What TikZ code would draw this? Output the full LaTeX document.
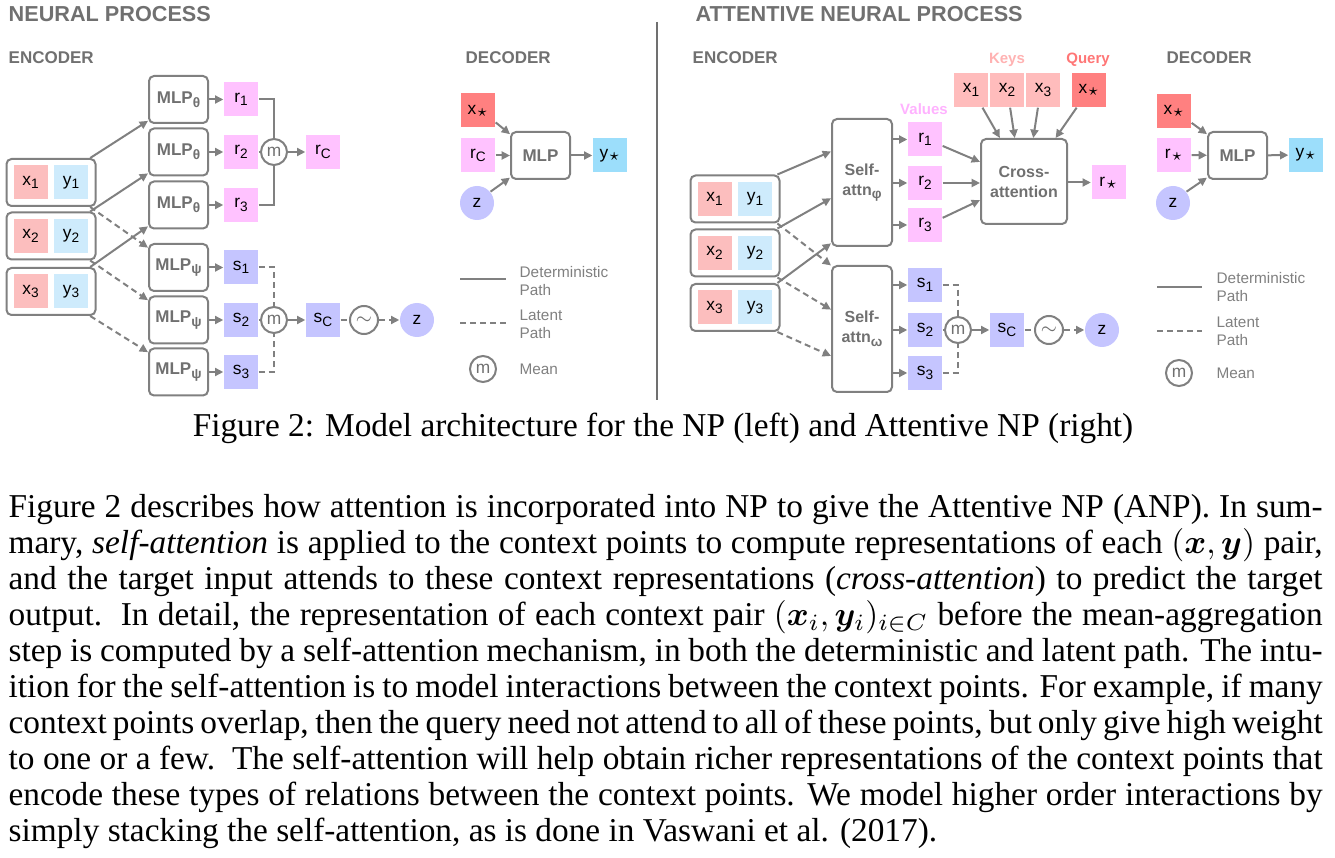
\documentclass[tikz,border=0pt]{standalone}
\usepackage{fontspec}
\usepackage{amsmath,bm}
\setmainfont{Liberation Serif}
\newfontfamily\dg{Liberation Sans}
\usetikzlibrary{arrows.meta}

\definecolor{lgrey}{RGB}{128,128,128}
\definecolor{dgrey}{RGB}{112,112,112}
\definecolor{xc}{RGB}{252,190,190}
\definecolor{yc}{RGB}{206,235,252}
\definecolor{rc}{RGB}{255,194,255}
\definecolor{sc}{RGB}{197,197,255}
\definecolor{xs}{RGB}{255,128,128}
\definecolor{ys}{RGB}{156,222,251}
\definecolor{kc}{RGB}{255,188,188}
\definecolor{keyc}{RGB}{255,178,178}
\definecolor{qc}{RGB}{255,118,118}
\definecolor{valc}{RGB}{255,178,255}

\newcommand\pxu{0.3pt}
\newlength\tw \setlength\tw{394.2pt}
\newcommand\lbl{\dg\fontsize{5.2}{6}\selectfont}
\newcommand\hd{\dg\bfseries\fontsize{5.1}{6}\selectfont}
\newcommand\sub[1]{\raisebox{-1.1pt}{\fontsize{4.1}{4}\selectfont #1}}
\newcommand\st{\raisebox{-0.6pt}{\fontsize{4}{4}\selectfont\ensuremath{\star}}}
\newcommand\jl[1]{\makebox[\tw][s]{#1}}

\tikzset{
  ln/.style={lgrey,line width=0.6pt},
  dsh/.style={ln,dash pattern=on 1.8pt off 1.2pt},
  ar/.style={-{Triangle[length=2.5pt,width=2.4pt]}},
  cell/.style={inner sep=0pt,minimum width=34*\pxu,minimum height=34*\pxu,font=\lbl,text=black},
  pairbox/.style={ln,draw,rounded corners=1.5pt,minimum width=89*\pxu,minimum height=47*\pxu},
  mlpbox/.style={ln,draw,fill=white,rounded corners=1.5pt,minimum width=59*\pxu,minimum height=47*\pxu,inner sep=0pt,font=\hd,text=dgrey},
  attbox/.style={ln,draw,rounded corners=1.5pt,minimum width=60*\pxu,inner sep=0pt,align=center,
    font=\dg\bfseries\fontsize{4.8}{6}\selectfont,text=dgrey},
  mean/.style={ln,draw,circle,inner sep=0pt,minimum size=26*\pxu,font=\lbl,text=dgrey},
  zc/.style={circle,fill=sc,inner sep=0pt,minimum size=34*\pxu,font=\lbl,text=black},
  ttl/.style={anchor=west,inner sep=0pt,text=dgrey,font=\dg\bfseries\fontsize{6.5}{7}\selectfont},
  sect/.style={anchor=west,inner sep=0pt,text=dgrey,font=\hd},
  lab/.style={inner sep=0pt,font=\dg\bfseries\fontsize{4.5}{5}\selectfont},
  leg/.style={anchor=west,inner sep=0pt,align=left,text=lgrey,font=\dg\fontsize{4.6}{5.4}\selectfont},
  txt/.style={anchor=base west,inner sep=0pt,font=\fontsize{10}{12}\selectfont}
}

\begin{document}
\begin{tikzpicture}[x=0.3pt,y=-0.3pt]
\useasboundingbox (0,0) rectangle (1335,858);
% headings
\node[ttl] (npt) at (8,14) {NEURAL PROCESS}; \node[ttl] (anpt) at (695,14) {ATTENTIVE NEURAL PROCESS};
\node[sect] (npenc) at (8,58) {ENCODER}; \node[sect] (npdec) at (465,58) {DECODER};
\node[sect] (anpenc) at (692,58) {ENCODER}; \node[sect] (anpdec) at (1166,58) {DECODER};
\coordinate (dv1) at (657,22); \coordinate (dv2) at (657,400);
\draw[line width=0.6pt,dgrey] (dv1) -- (dv2);

% NP encoder
\node[pairbox] (p1) at (51,182.5) {}; \node[cell,fill=xc] (px1) at (30.5,182.5) {x\sub1}; \node[cell,fill=yc] (py1) at (71,182.5) {y\sub1};
\node[pairbox] (p2) at (51,236) {}; \node[cell,fill=xc] (px2) at (30.5,236) {x\sub2}; \node[cell,fill=yc] (py2) at (71,236) {y\sub2};
\node[pairbox] (p3) at (51,291.5) {}; \node[cell,fill=xc] (px3) at (30.5,291.5) {x\sub3}; \node[cell,fill=yc] (py3) at (71,291.5) {y\sub3};
\node[mlpbox] (mt1) at (178.5,99.5) {MLP\sub{θ}}; \node[mlpbox] (mt2) at (178.5,152) {MLP\sub{θ}}; \node[mlpbox] (mt3) at (178.5,205) {MLP\sub{θ}};
\node[mlpbox] (mp1) at (178.5,267.5) {MLP\sub{ψ}}; \node[mlpbox] (mp2) at (178.5,320) {MLP\sub{ψ}}; \node[mlpbox] (mp3) at (178.5,372) {MLP\sub{ψ}};
\node[cell,fill=rc] (r1) at (241,99.5) {r\sub1}; \node[cell,fill=rc] (r2) at (241,152) {r\sub2}; \node[cell,fill=rc] (r3) at (241,205) {r\sub3};
\node[cell,fill=sc] (s1) at (241,267.5) {s\sub1}; \node[cell,fill=sc] (s2) at (241,320) {s\sub2}; \node[cell,fill=sc] (s3) at (241,372) {s\sub3};
\node[mean] (m1) at (274,152) {m}; \node[mean] (m2) at (274,320) {m};
\node[cell,fill=rc] (rC) at (323,152) {r\sub{C}}; \node[cell,fill=sc] (sC) at (323,320) {s\sub{C}};
\node[mean,minimum size=28*\pxu,font=\fontsize{4.5}{5}\selectfont] (smp) at (364,320) {$\sim$}; \node[zc] (z1) at (417,320) {z};
\draw[ln,ar] (p1.32) -- (mt1.215); \draw[ln,ar] (p2.32) -- (mt2.215); \draw[ln,ar] (p3.32) -- (mt3.215);
\draw[dsh,ar] (p1.-32) -- (mp1.147); \draw[dsh,ar] (p2.-32) -- (mp2.147); \draw[dsh,ar] (p3.-32) -- (mp3.147);
\draw[ln,ar] (mt1) -- (r1); \draw[ln,ar] (mt2) -- (r2); \draw[ln,ar] (mt3) -- (r3);
\draw[ln,ar] (mp1) -- (s1); \draw[ln,ar] (mp2) -- (s2); \draw[ln,ar] (mp3) -- (s3);
\draw[ln] (r1.east) -| (m1.north); \draw[ln] (r3.east) -| (m1.south); \draw[ln] (r2) -- (m1); \draw[ln,ar] (m1) -- (rC);
\draw[dsh] (s1.east) -| (m2.north); \draw[dsh] (s3.east) -| (m2.south); \draw[ln] (s2) -- (m2); \draw[ln,ar] (m2) -- (sC);
\draw[dsh] (sC) -- (smp); \draw[dsh,ar] (smp) -- (z1);

% NP decoder
\node[cell,fill=xs] (dx1) at (478,110.5) {x\st}; \node[cell,fill=rc] (dr1) at (478,155.5) {r\sub{C}}; \node[zc] (dz1) at (477,203) {z};
\node[mlpbox] (dm1) at (540.5,155.5) {MLP}; \node[cell,fill=ys] (dy1) at (610,155.5) {y\st};
\draw[ln,ar] (dx1.-34) -- (dm1.145); \draw[ln,ar] (dr1) -- (dm1); \draw[ln,ar] (dz1.40) -- (dm1.216); \draw[ln,ar] (dm1) -- (dy1);

% NP legend
\coordinate (ls1) at (460,279); \coordinate (le1) at (506,279); \draw[ln] (ls1) -- (le1);
\node[leg] (lt1) at (519,281) {Deterministic\\Path};
\coordinate (ls2) at (460,323); \coordinate (le2) at (506,323); \draw[dsh] (ls2) -- (le2);
\node[leg] (lt2) at (519,324) {Latent\\Path};
\node[mean] (lm1) at (483,369) {m}; \node[leg] (lt3) at (519,369) {Mean};

% ANP encoder
\node[pairbox] (q1) at (735,199) {}; \node[cell,fill=xc] (qx1) at (714.5,199) {x\sub1}; \node[cell,fill=yc] (qy1) at (755,199) {y\sub1};
\node[pairbox] (q2) at (735,253) {}; \node[cell,fill=xc] (qx2) at (714.5,253) {x\sub2}; \node[cell,fill=yc] (qy2) at (755,253) {y\sub2};
\node[pairbox] (q3) at (735,307.5) {}; \node[cell,fill=xc] (qx3) at (714.5,307.5) {x\sub3}; \node[cell,fill=yc] (qy3) at (755,307.5) {y\sub3};
\node[attbox,minimum height=127*\pxu] (saf) at (862,182.5) {Self-\\attn\sub{φ}};
\node[attbox,minimum height=126*\pxu] (sao) at (862,329) {Self-\\attn\sub{ω}};
\node[cell,fill=rc] (ar1) at (925,139.5) {r\sub1}; \node[cell,fill=rc] (ar2) at (925,183) {r\sub2}; \node[cell,fill=rc] (ar3) at (925,225) {r\sub3};
\node[cell,fill=sc] (as1) at (925,285) {s\sub1}; \node[cell,fill=sc] (as2) at (925,330) {s\sub2}; \node[cell,fill=sc] (as3) at (925,373) {s\sub3};
\node[lab,text=valc] (val) at (924,109) {Values};
\node[cell,fill=kc] (k1) at (971,90) {x\sub1}; \node[cell,fill=kc] (k2) at (1007,90) {x\sub2}; \node[cell,fill=kc] (k3) at (1043,90) {x\sub3};
\node[cell,fill=xs] (kq) at (1089,90) {x\st};
\node[lab,text=keyc] (keys) at (1007,60) {Keys}; \node[lab,text=qc] (qry) at (1088,60) {Query};
\node[attbox,minimum width=86*\pxu,minimum height=85*\pxu] (ca) at (1024,181.5) {Cross-\\attention};
\node[cell,fill=rc] (rs) at (1108.5,182.5) {r\st};
\node[mean] (m3) at (958,330) {m}; \node[cell,fill=sc] (sC2) at (1007,330) {s\sub{C}};
\node[mean,minimum size=28*\pxu,font=\fontsize{4.5}{5}\selectfont] (smp2) at (1049,330) {$\sim$}; \node[zc] (z2) at (1102,330) {z};
\draw[ln,ar] (q1.30) -- (saf.135); \draw[ln,ar] (q2.30) -- (saf.207); \draw[ln,ar] (q3.30) -- (saf.243);
\draw[dsh,ar] (q1.-30) -- (sao.116); \draw[dsh,ar] (q2.-30) -- (sao.148); \draw[dsh,ar] (q3.-30) -- (sao.221);
\draw[ln,ar] (saf.east |- ar1) -- (ar1); \draw[ln,ar] (saf.east |- ar2) -- (ar2); \draw[ln,ar] (saf.east |- ar3) -- (ar3);
\draw[ln,ar] (sao.east |- as1) -- (as1); \draw[ln,ar] (sao.east |- as2) -- (as2); \draw[ln,ar] (sao.east |- as3) -- (as3);
\draw[ln,ar] (ar1.-20) -- (ca.156); \draw[ln,ar] (ar2) -- (ca.west |- ar2); \draw[ln,ar] (ar3.22) -- (ca.203);
\draw[ln,ar] (k1.-57) -- (ca.119.5); \draw[ln,ar] (k2.-80) -- (ca.102); \draw[ln,ar] (k3.-106) -- (ca.78); \draw[ln,ar] (kq.-125) -- (ca.54);
\draw[ln,ar] (ca.east |- rs) -- (rs);
\draw[dsh] (as1.east) -| (m3.north); \draw[dsh] (as3.east) -| (m3.south); \draw[ln] (as2) -- (m3); \draw[ln,ar] (m3) -- (sC2);
\draw[dsh] (sC2) -- (smp2); \draw[dsh,ar] (smp2) -- (z2);

% ANP decoder
\node[cell,fill=xs] (dx2) at (1174,111) {x\st}; \node[cell,fill=rc] (dr2) at (1174,155) {r\st}; \node[zc] (dz2) at (1173,203) {z};
\node[mlpbox] (dm2) at (1237.5,155.5) {MLP}; \node[cell,fill=ys] (dy2) at (1306,155) {y\st};
\draw[ln,ar] (dx2.-34) -- (dm2.145); \draw[ln,ar] (dr2) -- (dm2); \draw[ln,ar] (dz2.40) -- (dm2.216); \draw[ln,ar] (dm2) -- (dy2);

% ANP legend
\coordinate (ls3) at (1157,287); \coordinate (le3) at (1202,287); \draw[ln] (ls3) -- (le3);
\node[leg] (lt4) at (1216,287) {Deterministic\\Path};
\coordinate (ls4) at (1157,331); \coordinate (le4) at (1202,331); \draw[dsh] (ls4) -- (le4);
\node[leg] (lt5) at (1216,331) {Latent\\Path};
\node[mean] (lm2) at (1179,373) {m}; \node[leg] (lt6) at (1216,373) {Mean};

% caption and text
\node[anchor=base,inner sep=0pt,font=\fontsize{10}{12}\selectfont] (cap) at (663,437) {Figure 2: Model architecture for the NP (left) and Attentive NP (right)};
\node[txt] (l1) at (8,517) {\jl{Figure 2 describes how attention is incorporated into NP to give the Attentive NP (ANP). In sum-}};
\node[txt] (l2) at (8,553) {\jl{mary, \emph{self-attention} is applied to the context points to compute representations of each $(\bm{x},\bm{y})$ pair,}};
\node[txt] (l3) at (8,589) {\jl{and the target input attends to these context representations (\emph{cross-attention}) to predict the target}};
\node[txt] (l4) at (8,625) {\jl{output.\ \ In detail, the representation of each context pair $(\bm{x}_i,\bm{y}_i)_{i\in C}$ before the mean-aggregation}};
\node[txt] (l5) at (8,661) {\jl{step is computed by a self-attention mechanism, in both the deterministic and latent path. The intu-}};
\node[txt] (l6) at (8,697) {\jl{ition for the self-attention is to model interactions between the context points. For example, if many}};
\node[txt] (l7) at (8,733) {\jl{context points overlap, then the query need not attend to all of these points, but only give high weight}};
\node[txt] (l8) at (8,769) {\jl{to one or a few.\ \ The self-attention will help obtain richer representations of the context points that}};
\node[txt] (l9) at (8,805) {\jl{encode these types of relations between the context points. We model higher order interactions by}};
\node[txt] (l10) at (8,841) {simply stacking the self-attention, as is done in Vaswani et al. (2017).};
\end{tikzpicture}
\end{document}
